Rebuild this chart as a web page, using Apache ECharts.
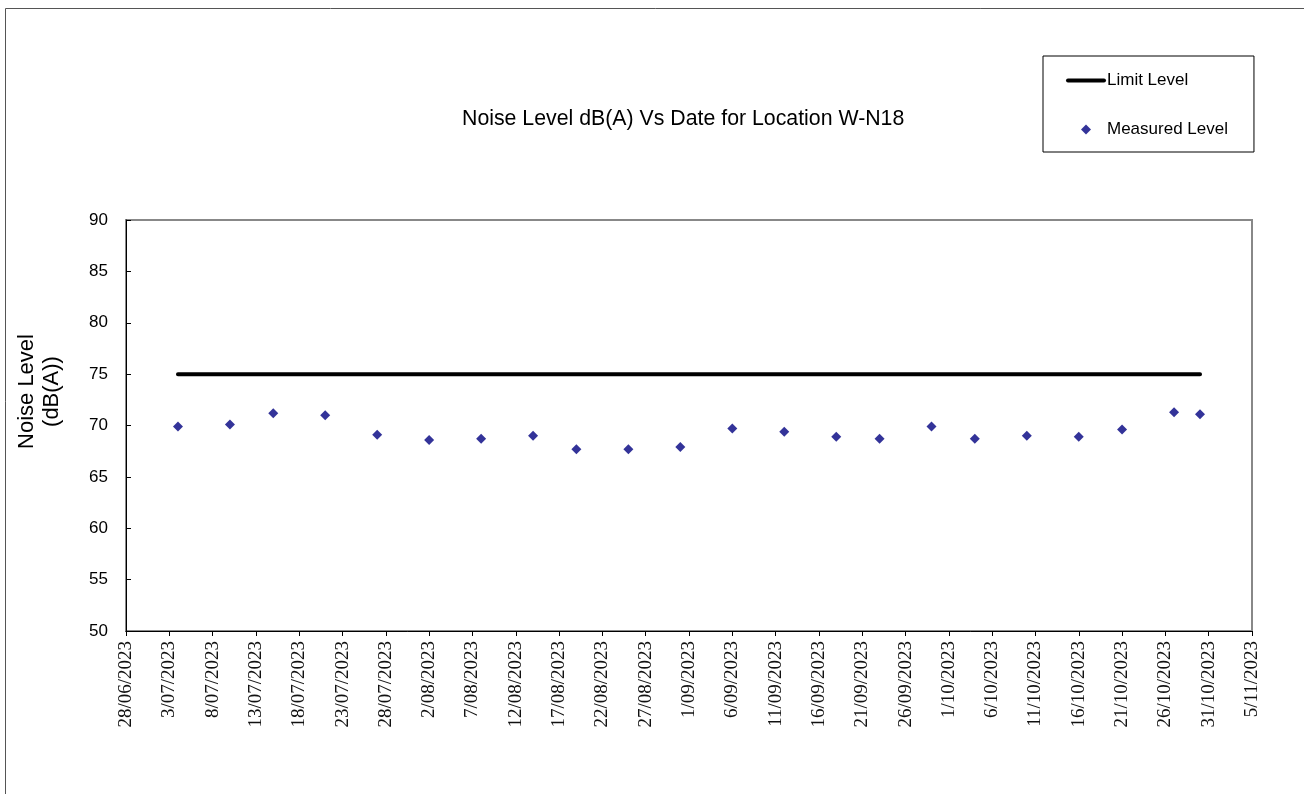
<!DOCTYPE html>
<html lang="en">
<head>
    <meta charset="UTF-8">
    <title>Noise Level W-N18</title>
    <script src="https://cdn.jsdelivr.net/npm/echarts@6/dist/echarts.min.js"></script>
    <style>
      html, body { margin: 0; padding: 0; background: #fff; }
    </style>
</head>
<body>
    <div id="main" style="width: 1304px;height:794px;"></div>
</body>

<script>
  // measurement dates
  const dates = [
    '2023-07-04', '2023-07-10', '2023-07-15', '2023-07-21', '2023-07-27', '2023-08-02',
    '2023-08-08', '2023-08-14', '2023-08-19', '2023-08-25', '2023-08-31', '2023-09-06',
    '2023-09-12', '2023-09-18', '2023-09-23', '2023-09-29', '2023-10-04', '2023-10-10',
    '2023-10-16', '2023-10-21', '2023-10-27', '2023-10-30'
  ]
  // measured level dB(A)
  const measured = [
    69.9, 70.1, 71.2, 71.0, 69.1, 68.6,
    68.7, 69.0, 67.7, 67.7, 67.9, 69.7,
    69.4, 68.9, 68.7, 69.9, 68.7, 69.0,
    68.9, 69.6, 71.3, 71.1
  ]
  // limit level, same for every date
  const limit = dates.map(() => 75)

  // x axis range (ticks every 5 days)
  const xStart = '2023-06-28'
  const xEnd = '2023-11-05'
  const DAY = 86400000

  function toTime(s) {
    const p = s.split('-').map(Number)
    return Date.UTC(p[0], p[1] - 1, p[2])
  }

  // d/mm/yyyy like the excel axis
  function fmtDate(v) {
    const d = new Date(v)
    const mm = String(d.getUTCMonth() + 1).padStart(2, '0')
    return d.getUTCDate() + '/' + mm + '/' + d.getUTCFullYear()
  }

  const font = 'Liberation Sans, Arial, sans-serif'

  const myChart = echarts.init(document.getElementById('main'))

  const option = {
    backgroundColor: '#fff',
    animation: false,
    title: {
      text: 'Noise Level dB(A) Vs Date for Location W-N18',
      left: 457,
      top: 104,
      textStyle: { fontFamily: font, fontSize: 21.3, fontWeight: 'normal', color: '#000' }
    },
    legend: {
      orient: 'vertical',
      left: 1043,
      top: 56,
      padding: [16, 26, 14, 23],
      itemGap: 32,
      itemWidth: 40,
      itemHeight: 10,
      borderColor: '#000',
      borderWidth: 1,
      textStyle: { fontFamily: font, fontSize: 17, color: '#000', padding: [0, 0, 0, -4] },
      data: [
        { name: 'Limit Level', icon: 'path://M2,0 L38,0 A2,2 0 0 1 38,4 L2,4 A2,2 0 0 1 2,0 Z' },
        { name: 'Measured Level', icon: 'path://M5,0 L10,5 L5,10 L0,5 Z' }
      ]
    },
    graphic: [{
      type: 'rect',
      shape: { x: 5.5, y: 8.5, width: 1400, height: 900 },
      style: { fill: null, stroke: '#555', lineWidth: 1 },
      silent: true,
      z: -10
    }],
    grid: {
      left: 126,
      top: 220,
      right: 52,
      bottom: 163,
      show: true,
      borderColor: '#888',
      borderWidth: 2
    },
    xAxis: {
      type: 'value',
      min: toTime(xStart),
      max: toTime(xEnd),
      interval: 5 * DAY,
      axisLine: { lineStyle: { color: '#000', width: 1 } },
      axisTick: { show: true, length: 5, lineStyle: { color: '#000' } },
      splitLine: { show: false },
      axisLabel: {
        rotate: 90,
        margin: 10,
        fontFamily: 'Liberation Serif, Times New Roman, serif',
        fontSize: 19,
        color: '#111',
        formatter: fmtDate
      }
    },
    yAxis: {
      type: 'value',
      min: 50,
      max: 90,
      interval: 5,
      name: 'Noise Level\n(dB(A))',
      nameLocation: 'middle',
      nameGap: 62,
      nameTextStyle: {
        fontFamily: font, fontSize: 22, color: '#000', lineHeight: 25,
        padding: [0, 0, 0, 68]
      },
      axisLine: { show: true, lineStyle: { color: '#000', width: 1 } },
      axisTick: { show: true, inside: true, length: 5, lineStyle: { color: '#000' } },
      splitLine: { show: false },
      axisLabel: { fontFamily: font, fontSize: 17, color: '#000', margin: 18 }
    },
    series: [
      {
        name: 'Limit Level',
        type: 'line',
        data: dates.map((d, i) => [toTime(d), limit[i]]),
        showSymbol: false,
        symbol: 'none',
        lineStyle: { color: '#000', width: 4, cap: 'round' },
        itemStyle: { color: '#000' },
        z: 2
      },
      {
        name: 'Measured Level',
        type: 'scatter',
        symbol: 'diamond',
        symbolSize: 10,
        data: dates.map((d, i) => [toTime(d), measured[i]]),
        itemStyle: { color: '#000080' },
        z: 3
      }
    ]
  }

  myChart.setOption(option)
</script>

</html>
